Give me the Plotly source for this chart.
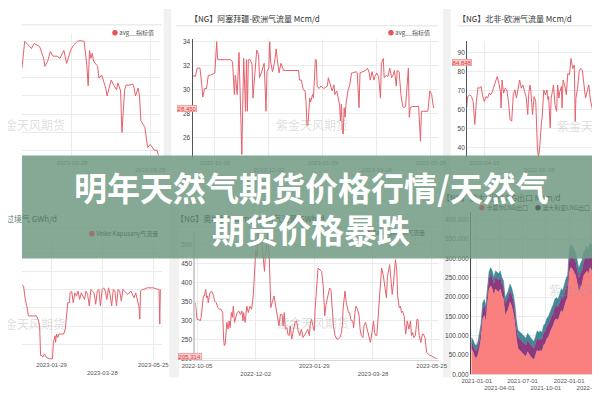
import pandas as pd
import plotly.graph_objects as go

W, H = 600, 400

# ---------------- data ----------------
# Panel A (top-left): avg__指标值
A_BASE = "2023-03-28"
a_days = [-37, -35, -32, -30, -28, -24, -21, -20, -18, -16,
          -14, -11, -9, -6, -4, -1, 1, 4, 6, 9,
          11, 12, 13, 14, 15, 16, 19, 20, 22, 25,
          26, 27, 29, 31, 33, 34, 36, 37, 39, 40,
          43, 45, 46, 47, 49, 50, 51, 54, 56, 58,
          61, 63, 64]
a_vals = [32.7, 40.1, 39.0, 38.1, 39.5, 38.7, 35.4, 33.2, 34.6, 37.3,
          36.0, 36.0, 35.4, 37.6, 34.0, 37.6, 39.0, 40.1, 40.3, 40.1,
          33.5, 27.8, 37.6, 35.4, 36.8, 34.6, 33.2, 29.9, 30.8, 27.2,
          25.0, 26.7, 29.4, 28.0, 26.7, 28.6, 26.4, 14.9, 26.7, 28.0,
          28.0, 28.3, 27.2, 25.0, 27.2, 25.0, 18.2, 16.3, 10.8, 11.6,
          10.0, 10.0, 8.6]

# Panel B (top-middle): 阿塞拜疆-欧洲气流量 Mcm/d
B_BASE = "2022-10-05"
b_days = [-24, -21, -19, -16, -14, -13, -11, -9, -7, -5,
          0, 2, 3, 17, 19, 21, 22, 24, 26, 28,
          29, 30, 31, 33, 34, 35, 36, 38, 40, 41,
          43, 45, 47, 48, 50, 52, 53, 55, 56, 58,
          59, 60, 62, 64, 66, 67, 69, 71, 74, 76,
          86, 90, 91, 93, 95, 97, 98, 99, 100, 101,
          102, 103, 105, 106, 108, 109, 110, 112, 114, 117,
          121, 122, 124, 126, 128, 129, 131, 133, 134, 135,
          136, 137, 138, 139, 140, 141, 142, 143, 145, 147,
          148, 152, 153, 155, 156, 159, 162, 164, 166, 167,
          169, 171, 172, 174, 176, 178, 179, 181, 182, 184,
          186, 188, 190, 191, 193, 195, 196, 198, 200, 202,
          203, 205, 207, 208, 209, 210, 212, 215, 219, 221,
          222, 224, 228, 229, 231, 233, 235, 236]
b_vals = [31.2, 31.1, 31.8, 31.8, 30.4, 29.4, 30.1, 30.1, 31.2, 31.2,
          31.4, 34.0, 32.5, 32.5, 32.3, 29.6, 31.2, 29.6, 33.1, 28.5,
          24.6, 28.8, 32.6, 28.2, 32.5, 28.2, 32.5, 32.5, 32.1, 29.3,
          31.0, 33.3, 32.9, 31.0, 31.4, 31.9, 32.2, 28.2, 31.5, 31.8,
          34.0, 32.3, 31.5, 32.2, 33.4, 32.6, 31.4, 32.2, 31.6, 31.6,
          31.6, 31.6, 30.8, 30.8, 30.0, 29.9, 29.0, 27.1, 27.0, 27.9,
          29.3, 29.0, 29.6, 29.3, 32.5, 32.5, 30.3, 30.1, 30.3, 30.1,
          30.3, 31.0, 30.5, 29.9, 30.4, 29.6, 29.9, 28.9, 28.8, 27.4,
          28.8, 26.6, 26.3, 28.5, 27.7, 28.8, 29.3, 29.9, 30.4, 31.4,
          31.4, 31.5, 31.4, 28.5, 31.4, 31.5, 31.6, 31.8, 31.4, 30.8,
          31.5, 30.8, 31.1, 31.4, 31.1, 29.3, 32.2, 32.6, 31.0, 31.2,
          31.1, 31.8, 31.0, 31.1, 31.6, 30.3, 31.6, 31.5, 29.6, 28.6,
          28.5, 28.6, 30.7, 31.8, 27.7, 28.5, 28.6, 28.6, 28.6, 25.7,
          28.2, 28.2, 28.2, 28.2, 29.9, 29.6, 28.5, 28.5]

# Panel C (top-right): 北非-欧洲气流量 Mcm/d
C_BASE = "2022-04-15"
c_days = [-17.5, -16.5, -14.3, -12.7, -11.1, -10.2, -9.5, -7.9, -6.3, -4.8,
          -3.2, -1.6, 0, 1.6, 3.2, 4.8, 6.3, 7.9, 9.5, 11.1,
          12.7, 14.3, 15.9, 16.5, 17.5, 19.0, 20.6, 22.2, 23.8, 25.4,
          27.0, 28.6, 30.2, 31.7, 33.3, 34.9, 36.5, 38.1, 39.7, 41.3,
          42.9, 43.8, 45.1, 46.0, 47.6, 49.2, 50.8, 51.7, 52.4, 53.3,
          54.0, 54.9, 55.6, 56.5, 57.1, 58.1, 58.7, 60.3, 61.9, 62.9,
          63.5, 65.1, 66.0, 67.3, 68.3, 69.8, 71.4, 72.4, 73.7, 74.6,
          76.2, 76.8, 77.8, 79.4, 81.0, 82.5, 84.1, 85.7, 87.3, 88.9,
          89.8, 90.5, 92.1, 93.7, 95.2, 96.8, 98.4, 100.0, 101.6, 103.2,
          104.8, 106.3, 107.9, 109.5, 111.1, 112.7, 114.3]
c_vals = [61.0, 67.0, 67.9, 67.0, 64.4, 53.1, 52.3, 64.4, 71.7, 71.4,
          72.3, 67.0, 64.4, 67.0, 66.2, 68.8, 67.9, 69.7, 72.3, 75.7,
          77.5, 74.0, 69.7, 61.0, 75.7, 68.8, 71.4, 70.5, 64.4, 54.9,
          54.0, 67.9, 70.5, 66.2, 70.5, 75.7, 71.4, 73.1, 69.7, 67.0,
          57.5, 67.9, 73.1, 69.7, 57.5, 67.0, 64.4, 47.0, 40.1, 35.7,
          36.6, 41.8, 50.5, 54.0, 55.7, 69.7, 70.5, 67.9, 70.5, 65.3,
          67.0, 50.5, 66.2, 69.7, 73.1, 62.7, 59.2, 73.1, 66.2, 69.7,
          72.3, 61.0, 75.7, 73.1, 67.9, 79.2, 78.3, 87.0, 81.8, 83.6,
          54.0, 66.2, 71.4, 80.1, 81.8, 81.0, 73.1, 66.2, 69.7, 73.1,
          65.3, 61.0, 57.5, 60.1, 64.4, 66.2, 67.0]

# Panel D (bottom-left): Velke Kapusany气流量 GWh/d
D_BASE = "2023-01-29"
d_days = [-33.6, -31.8, -29.9, -28.1, -26.3, -22.6, -17.2, -15.3, -13.5, -12.4,
          -10.9, -9.9, -8.0, -6.2, -2.6, 0, 1.1, 2.2, 2.9, 4.0,
          4.7, 5.8, 7.3, 8.4, 10.2, 12.0, 13.9, 15.7, 16.8, 17.5,
          18.6, 20.4, 21.2, 23.0, 24.8, 26.6, 28.5, 30.3, 32.1, 33.9,
          35.8, 37.6, 39.4, 41.2, 43.1, 44.9, 46.7, 48.5, 50.4, 52.2,
          54.0, 55.8, 57.7, 59.5, 61.3, 63.1, 65.0, 66.8, 68.6, 70.4,
          72.3, 74.1, 75.9, 77.7, 79.6, 81.4, 83.2, 86.9, 90.5, 92.3,
          94.2, 96.0, 97.8, 99.6, 100.7, 101.5, 103.3, 105.1, 108.8, 112.4,
          116.1, 119.7, 122.6, 123.4, 124.1]
d_vals = [85.5, 83.7, 69.2, 62.0, 51.1, 51.1, 51.1, 47.5, 40.2, 7.6,
          7.6, 5.8, 9.4, 5.8, 4.0, 4.0, 4.0, 22.1, 25.7, 29.3,
          22.1, 31.2, 27.5, 31.2, 31.2, 31.2, 31.2, 36.6, 51.1, 54.7,
          65.6, 65.6, 76.4, 78.3, 65.6, 76.4, 72.8, 78.3, 69.2, 76.4,
          72.8, 69.2, 78.3, 74.6, 62.0, 80.1, 78.3, 76.4, 63.8, 78.3,
          80.1, 62.0, 80.1, 81.9, 78.3, 69.2, 81.9, 74.6, 62.0, 80.1,
          78.3, 62.0, 80.1, 78.3, 67.4, 80.1, 78.3, 74.6, 78.3, 74.6,
          71.0, 76.4, 69.2, 62.0, 47.5, 78.3, 80.1, 80.1, 81.9, 81.9,
          81.9, 80.8, 80.1, 42.0, 80.1]

# Panel E (bottom-middle): 气流量 GWh/d
E_BASE = "2022-10-05"
e_days = [-1.6, 0, 1.6, 3.2, 4.1, 5.4, 6.3, 7.3, 8.6, 9.5,
          10.5, 11.1, 12.7, 14.3, 15.9, 17.5, 19.0, 20.6, 22.2, 23.8,
          25.4, 26.3, 27.0, 27.9, 29.5, 30.8, 31.7, 32.7, 34.0, 34.9,
          35.9, 37.1, 38.1, 39.7, 41.3, 42.9, 44.4, 45.4, 46.0, 47.6,
          49.2, 50.8, 52.4, 54.0, 55.6, 56.5, 57.1, 58.1, 59.4, 60.3,
          61.9, 63.5, 65.1, 66.0, 66.7, 67.6, 68.9, 69.8, 71.4, 72.4,
          73.0, 74.6, 76.2, 77.8, 79.4, 81.0, 82.5, 84.1, 85.1, 86.3,
          87.3, 88.9, 89.8, 91.1, 92.1, 93.7, 95.2, 96.8, 98.4, 100.0,
          101.6, 103.2, 104.8, 106.3, 107.9, 109.5, 111.1, 112.1, 113.3, 114.6,
          115.9, 116.8, 118.4, 119.7, 121.6, 123.2, 124.8, 126.3, 127.6, 128.6,
          130.2, 131.1, 132.4, 133.3, 134.9, 136.5, 138.1, 139.7, 141.3, 142.9,
          143.8, 144.4, 145.4, 146.3, 147.6, 148.6, 149.8, 150.8, 152.4, 154.0,
          154.9, 156.2, 157.1, 158.7, 160.3, 161.3, 162.5, 164.1, 165.1, 166.7,
          168.3, 169.8, 171.4, 173.0, 174.6, 175.6, 176.8, 177.8, 179.4, 181.0,
          182.5, 184.1, 185.7, 187.3, 188.3, 189.5, 190.5, 192.1, 193.0, 194.0,
          195.2, 196.2, 197.5, 198.4, 200.0, 201.0, 202.2, 203.2, 204.8, 206.3,
          207.9, 209.5, 211.1, 212.1, 213.3, 214.3, 215.9, 217.5, 218.4, 219.7,
          221.3, 222.9, 223.8, 225.4, 227.0, 228.6, 230.2, 231.7, 233.3, 234.9,
          236.5]
e_vals = [347, 303, 303, 299, 308, 338, 365, 365, 382, 360,
          365, 347, 373, 378, 369, 351, 347, 334, 330, 330,
          321, 251, 233, 238, 295, 277, 299, 281, 321, 308,
          338, 295, 303, 321, 325, 316, 325, 299, 321, 295,
          338, 321, 338, 330, 365, 408, 452, 487, 469, 531,
          504, 522, 478, 434, 430, 469, 513, 531, 469, 365,
          334, 351, 365, 338, 312, 286, 316, 316, 286, 321,
          277, 281, 264, 260, 286, 251, 273, 295, 299, 273,
          260, 277, 255, 260, 268, 277, 260, 295, 303, 286,
          273, 330, 404, 439, 434, 430, 391, 312, 343, 356,
          369, 386, 382, 338, 286, 260, 251, 251, 255, 268,
          290, 330, 365, 378, 347, 330, 321, 321, 299, 299,
          281, 321, 338, 330, 312, 277, 260, 255, 286, 295,
          277, 264, 242, 268, 299, 268, 260, 260, 325, 373,
          439, 421, 382, 360, 417, 434, 448, 399, 369, 391,
          439, 461, 434, 365, 334, 338, 321, 325, 312, 264,
          299, 277, 299, 260, 268, 255, 260, 303, 303, 260,
          242, 264, 264, 255, 216, 212, 207, 207, 203, 203,
          198]

# Panel F (bottom-right): stacked LNG exports
F_START, F_END, F_N = "2020-12-11", "2022-05-02", 81
f_coral = [65.0, 58.1, 45.3, 41.0, 49.6, 66.7, 92.3, 143.6, 152.1, 135.0,
           186.3, 220.5, 229.1, 220.5, 203.4, 220.5, 216.2, 212.0, 220.5, 203.4,
           194.9, 152.1, 160.7, 169.2, 186.3, 177.8, 160.7, 135.0, 92.3, 66.7,
           62.4, 58.1, 53.8, 49.6, 45.3, 58.1, 49.6, 45.3, 41.0, 36.8,
           49.6, 62.4, 58.1, 62.4, 58.1, 75.2, 79.5, 92.3, 96.6, 109.4,
           117.9, 126.5, 139.3, 143.6, 139.3, 152.1, 165.0, 160.7, 177.8, 190.6,
           199.1, 263.2, 276.1, 271.8, 263.2, 254.7, 233.3, 212.0, 224.8, 233.3,
           254.7, 263.2, 267.5, 259.0, 276.1, 267.5, 280.3, 284.6, 288.9, 293.2,
           297.4]
f_purple = [18, 19, 20, 20, 21, 22, 24, 26, 27, 27,
            28, 29, 30, 30, 30, 30, 31, 31, 30, 30,
            30, 29, 29, 30, 30, 30, 31, 31, 30, 30,
            30, 30, 29, 29, 30, 30, 31, 31, 30, 30,
            30, 31, 31, 31, 31, 32, 32, 32, 33, 33,
            33, 33, 34, 34, 34, 34, 34, 35, 35, 35,
            35, 36, 36, 36, 36, 36, 37, 37, 37, 37,
            37, 38, 38, 38, 38, 38, 38, 39, 39, 39,
            39]
f_teal = [12, 12, 13, 13, 13, 14, 14, 15, 15, 15,
          16, 16, 17, 17, 17, 17, 17, 17, 17, 17,
          17, 17, 17, 17, 17, 17, 17, 18, 18, 18,
          18, 18, 18, 18, 18, 18, 18, 18, 18, 18,
          18, 19, 19, 19, 19, 19, 20, 20, 20, 20,
          20, 21, 21, 21, 21, 21, 22, 22, 22, 22,
          23, 23, 23, 23, 24, 24, 24, 24, 25, 25,
          25, 25, 26, 26, 26, 26, 26, 26, 26, 26,
          26]

# tick labels
ticks_a = ["2023-01-29", "2023-03-28", "2023-05-25"]
ticks_b = ["2022-10-05", "2022-12-02", "2023-01-29", "2023-03-28", "2023-05-25"]
ticks_c = ["2022-04-15", "2022-06-08", "2022-08-01"]
ticks_d = ["2023-01-29", "2023-03-28", "2023-05-25"]
ticks_e = ["2022-10-05", "2022-12-02", "2023-01-29", "2023-03-28", "2023-05-25"]
ticks_f = ["2021-01-01", "2021-04-01", "2021-07-01", "2021-10-01", "2022-01-01", "2022-04-01"]

TITLE_1 = "明年天然气期货价格行情/天然气"
TITLE_2 = "期货价格暴跌"
WATERMARK = "紫金天风期货"

# ---------------- helpers ----------------
def to_dates(base, offs):
    b = pd.Timestamp(base)
    return [b + pd.Timedelta(days=float(o)) for o in offs]

def drange(base, lo, hi):
    return [d.strftime("%Y-%m-%d %H:%M") for d in to_dates(base, [lo, hi])]

def xd(l, r):
    return [l / W, r / W]

def yd(top, bottom):
    return [1 - bottom / H, 1 - top / H]

def px(x):
    return x / W

def py(y):
    return 1 - y / H

def stagger(labels, first_low=False):
    out = []
    for i, t in enumerate(labels):
        low = (i % 2 == 1) != first_low
        out.append("<br>" + t if low else t)
    return out

LINE = "#e6606c"
GRID = "#ebebeb"
TICKF = dict(size=6, family="Liberation Sans", color="#555")
YTICKF = dict(size=6.5, family="Liberation Sans", color="#444")
CJK = "Noto Sans CJK SC"

fig = go.Figure()

def line_trace(base, days, vals, xa, ya, name):
    fig.add_trace(go.Scatter(x=to_dates(base, days), y=vals, mode="lines",
                             line=dict(color=LINE, width=1), name=name,
                             xaxis=xa, yaxis=ya, hoverinfo="skip"))

line_trace(A_BASE, a_days, a_vals, "x", "y", "avg__指标值")
line_trace(B_BASE, b_days, b_vals, "x2", "y2", "avg__指标值")
line_trace(C_BASE, c_days, c_vals, "x3", "y3", "北非-欧洲")
line_trace(D_BASE, d_days, d_vals, "x4", "y4", "Velke Kapusany气流量")
line_trace(E_BASE, e_days, e_vals, "x5", "y5", "气流量")

f_x = pd.date_range(F_START, F_END, periods=F_N)
for vals, col, nm in [(f_coral, "rgb(250,128,128)", "卡塔尔LNG出口"),
                      (f_purple, "rgb(140,58,128)", "澳大利亚LNG出口"),
                      (f_teal, "rgb(62,138,150)", "其他")]:
    fig.add_trace(go.Scatter(x=f_x, y=vals, mode="lines", stackgroup="f",
                             line=dict(color=col, width=0.5), fillcolor=col,
                             name=nm, xaxis="x6", yaxis="y6", hoverinfo="skip"))

def xaxis(domain, rng, ticks, anchor, first_low=False, showline=False):
    return dict(domain=domain, range=rng, type="date", anchor=anchor,
                tickvals=ticks, ticktext=stagger(ticks, first_low), tickangle=0,
                tickfont=TICKF, showgrid=True, gridcolor=GRID, gridwidth=1,
                zeroline=False, showline=showline, linecolor="#d8d8d8", ticks="")

def yaxis(domain, rng, dtick, anchor, labels=True, line=None, lw=1, fmt=None):
    d = dict(domain=domain, range=rng, dtick=dtick, tick0=0, anchor=anchor,
             showticklabels=labels, tickfont=YTICKF, showgrid=True,
             gridcolor=GRID, zeroline=False, ticks="")
    if line:
        d.update(showline=True, linecolor=line, linewidth=lw)
    if fmt:
        d.update(tickformat=fmt)
    return d

fig.update_layout(
    width=W, height=H, autosize=False,
    margin=dict(l=0, r=0, t=0, b=0),
    paper_bgcolor="white", plot_bgcolor="white", showlegend=False,
    xaxis=xaxis(xd(0, 143), drange(A_BASE, -37, 65), ticks_a, "y", first_low=True),
    yaxis=yaxis(yd(25, 150), [8.0, 42.2], 5, "x", labels=False),
    xaxis2=xaxis(xd(177, 432), drange(B_BASE, -24, 240), ticks_b, "y2"),
    yaxis2=yaxis(yd(30, 150), [24.35, 34.25], 2, "x2", line="#555"),
    xaxis3=xaxis(xd(462, 600), drange(C_BASE, -17.1, 114.3), ticks_c, "y3"),
    yaxis3=yaxis(yd(32, 150), [34.9, 96.4], 10, "x3", line="#555"),
    xaxis4=xaxis(xd(0, 145), drange(D_BASE, -33.6, 125.6), ticks_d, "y4"),
    yaxis4=yaxis(yd(235, 355), [2.2, 132.6], 20, "x4", labels=False),
    xaxis5=xaxis(xd(180, 433), drange(E_BASE, -1.6, 239.4), ticks_e, "y5", showline=True),
    yaxis5=yaxis(yd(225, 354.7), [195, 535], 50, "x5", line="#cfcfcf", lw=2),
    xaxis6=xaxis(xd(466, 600), ["2020-12-09", "2022-05-03"], ticks_f, "y6", showline=True),
    yaxis6=yaxis(yd(205, 369), [0, 420], 50, "x6", line="#444", fmt=".3f"),
)

shapes = []
# light gaps between the chart cards
for (x0, x1, y0, y1) in [(147, 155, 0, 150), (153, 163, 200, 372), (437, 445, 0, 372)]:
    shapes.append(dict(type="rect", xref="paper", yref="paper", layer="below",
                       x0=px(x0), x1=px(x1), y0=py(y1), y1=py(y0),
                       fillcolor="#f1f1f1", line=dict(width=0)))
# header rules under chart titles
for (x0, x1, y) in [(0, 145, 16), (160, 432, 17), (452, 600, 17), (0, 145, 221), (160, 432, 220)]:
    shapes.append(dict(type="line", xref="paper", yref="paper", layer="below",
                       x0=px(x0), x1=px(x1), y0=py(y), y1=py(y),
                       line=dict(color="#e2e2e2", width=1)))
# green banner
shapes.append(dict(type="rect", xref="paper", yref="paper", layer="above",
                   x0=0, x1=1, y0=py(252), y1=py(148),
                   fillcolor="rgba(113,155,132,0.86)", line=dict(width=0)))
fig.update_layout(shapes=shapes)

ann = []

def note(text, x, y, size=6, color="#555", xanchor="left", family=CJK, **kw):
    ann.append(dict(text=text, x=px(x), y=py(y), xref="paper", yref="paper",
                    xanchor=xanchor, yanchor="middle", showarrow=False,
                    font=dict(size=size, color=color, family=family), **kw))

# chart titles
note("【NG】阿塞拜疆-欧洲气流量 Mcm/d", 172, 10, size=8, color="#333")
note("【NG】北非-欧洲气流量 Mcm/d", 450, 10, size=8, color="#333")
UNDER = "rgb(92,122,104)"
note("【NG】乌克兰-斯洛伐克过境气 GWh/d", 38, 212, size=8, color=UNDER, xanchor="right")
note("【NG】奥地利Baumgarten气流量 GWh/d", 158, 212, size=8, color=UNDER)
note("【NG】澳大利亚LNG出口 Mcm/d", 562, 190, size=8, color=UNDER, xanchor="right")

# legends
note('<span style="color:#e8505a">●</span> avg__指标值', 91, 24, size=6)
note('<span style="color:#e8505a">●</span> avg__指标值', 378, 24, size=6)
DOT_U = "rgb(150,118,108)"
note(f'<span style="color:{DOT_U}">●</span> Velke Kapusany气流量', 67, 227, size=6, color=UNDER)
note(f'<span style="color:{DOT_U}">●</span> Baumgarten气流量', 420, 226, size=6, color=UNDER, xanchor="right")
note(f'<span style="color:{DOT_U}">●</span> 卡塔尔LNG出口', 472, 201, size=6, color=UNDER)
note('<span style="color:rgb(88,104,96)">●</span> 澳大利亚LNG出口', 530, 201, size=6, color=UNDER)

# watermarks
WM = "rgba(150,150,150,0.32)"
note(WATERMARK, 47, 117, size=12, color=WM, xanchor="right")
note(WATERMARK, 301, 117, size=12, color=WM, xanchor="center")
note(WATERMARK, 553, 118, size=12, color=WM)
note(WATERMARK, 47, 318, size=12, color=WM, xanchor="right")
note(WATERMARK, 302, 317, size=12, color=WM, xanchor="center")
note(WATERMARK, 545, 283, size=12, color=WM)

# last-value tags on y axes
for (t, x, y) in [("28.450", 171, 100), ("84.848", 457, 54), ("205.314", 174, 351)]:
    note(t, x, y, size=6, color="#e03a3a", xanchor="center", family="Liberation Sans",
         bgcolor="#fbd0d0", bordercolor="#ef8080", borderwidth=0.6, borderpad=0)

# main title over the banner
note(f"<b>{TITLE_1}</b>", 300, 180, size=33, color="white", xanchor="center")
note(f"<b>{TITLE_2}</b>", 300, 222, size=33, color="white", xanchor="center")

fig.update_layout(annotations=ann)

fig.write_html("out.html")
